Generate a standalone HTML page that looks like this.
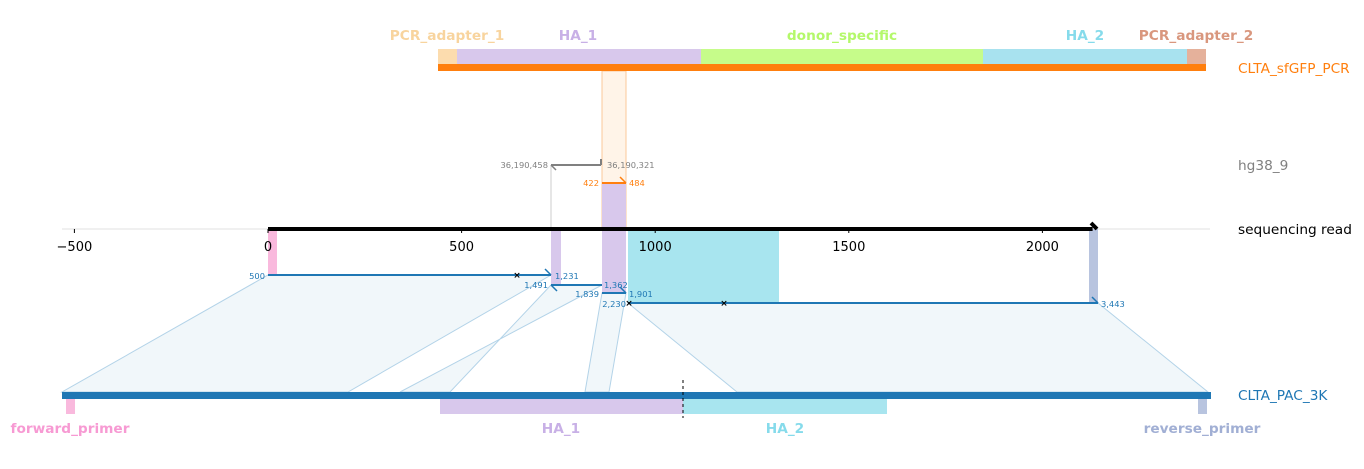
<!DOCTYPE html>
<html><head><meta charset="utf-8"><style>
body{margin:0;background:#fff;}
svg text{font-family:"DejaVu Sans","Liberation Sans",sans-serif;}
</style></head><body>
<svg width="1364" height="464" viewBox="0 0 1364 464">
<g id="root"></g>
</svg>
<script>
const ticks=[-500,0,500,1000,1500,2000];
const tickLabels=["−500","0","500","1000","1500","2000"];
const topFeatures=["PCR_adapter_1","HA_1","donor_specific","HA_2","PCR_adapter_2"];
const topStarts=[438,457,701,983,1187];
const topEnds=[457,701,983,1187,1206];
const topColors=["#fcdcae","#d8c8ec","#c6fc8a","#a8e2ef","#e5b19b"];
const topTextColors=["#f8d49e","#c8b0e6","#b4f86a","#86dbeb","#d9977e"];
const botFeatures=["forward_primer","HA_1","HA_2","reverse_primer"];
const readStart=0, readEnd=2140;
const NS="http://www.w3.org/2000/svg";
const root=document.getElementById('root');
function X(v){return 268+v*0.3872;}
function el(t,a,txt){const e=document.createElementNS(NS,t);for(const k in a)e.setAttribute(k,a[k]);if(txt!==undefined)e.textContent=txt;root.appendChild(e);return e;}
function T(x,y,s,fs,fill,anchor,w,name){const e=el('text',{x:x,y:y,'font-size':fs,fill:fill,'text-anchor':anchor||'start','font-weight':w||'normal'},s);return e;}
const polys=[[[268,275],[551,275],[348,392],[62,392]],[[551,285],[602,285],[400,392],[450,392]],[[602,293],[626,293],[609,392],[585,392]],[[628,303],[1098,303],[1208,392],[737,392]]];
polys.forEach((p,i)=>{const e=el('polygon',{points:p.map(q=>q.join(',')).join(' '),fill:'#f1f7fa',stroke:'#b3d3e8','stroke-width':1});});
let e=el('line',{x1:62,y1:229,x2:1210,y2:229,stroke:'#e0e0e0','stroke-width':1});
e=el('rect',{x:602,y:71,width:24,height:158,fill:'#fff4e8',stroke:'#fbc99a','stroke-width':1});
const mids=[[268,277,229,275,'#f9b9dd'],[551,561,229,285,'#d8c8ec'],[602,626,183,293,'#d8c8ec'],[628,779,229,303,'#a8e5ef'],[1089,1098,229,303,'#b8c4df']];
mids.forEach((m,i)=>{const e=el('rect',{x:m[0],y:m[2],width:m[1]-m[0],height:m[3]-m[2],fill:m[4]});});
e=el('line',{x1:551,y1:165,x2:551,y2:229,stroke:'#cccccc'});
e=el('line',{x1:X(readStart),y1:229,x2:X(readEnd)-4,y2:229,stroke:'#000','stroke-width':4});
e=el('polyline',{points:'1091,223 1097,229',stroke:'#000','stroke-width':4,fill:'none'});
ticks.forEach((t,i)=>{const x=X(t);let e=el('line',{x1:x,y1:229,x2:x,y2:233,stroke:'#000'});T(x,251,tickLabels[i],13,'#000','middle','normal','x-tick-label');});
topFeatures.forEach((f,i)=>{const e=el('rect',{x:topStarts[i],y:49,width:topEnds[i]-topStarts[i],height:15,fill:topColors[i]});});
e=el('rect',{x:438,y:64,width:768,height:7,fill:'#ff7f0e'});
const topLx=[447,578,842,1085,1196];
topFeatures.forEach((f,i)=>T(topLx[i],40,f,13.7,topTextColors[i],'middle','bold','label-'+f));
e=el('rect',{x:62,y:392,width:1149,height:7,fill:'#1f77b4'});
const bot=[[66,75,'#f9b9dd'],[440,683,'#d8c8ec'],[683,887,'#a8e5ef'],[1198,1207,'#b8c4df']];
bot.forEach((b,i)=>{const e=el('rect',{x:b[0],y:399,width:b[1]-b[0],height:15,fill:b[2]});});
e=el('line',{x1:683,y1:380,x2:683,y2:418,stroke:'#000','stroke-dasharray':'3,3'});
const botLx=[70,561,785,1202],botC=['#f79ad3','#c8b0e6','#86dbeb','#a1afd4'];
botFeatures.forEach((f,i)=>T(botLx[i],433,f,13.7,botC[i],'middle','bold','bottom-label-'+f));
function seg(x1,x2,y,c,w,name){const e=el('line',{x1:x1,y1:y,x2:x2,y2:y,stroke:c,'stroke-width':w});}
function hook(x,y,dx,dy,c,name){const e=el('line',{x1:x,y1:y,x2:x+dx,y2:y+dy,stroke:c,'stroke-width':1.5});}
seg(551,601,165,'#808080',2,'hg38-alignment');hook(551,165,5,5,'#808080','hg38-arrow');
e=el('line',{x1:601,y1:159,x2:601,y2:165,stroke:'#808080','stroke-width':2});
seg(602,626,183,'#ff7f0e',2,'donor-alignment');hook(626,183,-6,-6,'#ff7f0e','donor-arrow');
const B='#1f77b4';
seg(268,551,275,B,2,'align-1');hook(551,275,-6,-6,B,'arrow-1');
seg(551,602,285,B,2,'align-2');hook(551,285,6,6,B,'arrow-2');
seg(602,626,293,B,2,'align-3');hook(626,293,-6,-6,B,'arrow-3');
seg(628,1098,303,B,2,'align-4');hook(1098,303,-6,-6,B,'arrow-4');
[[517,275],[629,303],[724,303]].forEach(p=>T(p[0],p[1]+3,'×',9,'#000','middle','bold','gap-marker'));
const labs=[[548,168,'36,190,458','#808080','end'],[607,168,'36,190,321','#808080','start'],[599,186,'422','#ff7f0e','end'],[629,186,'484','#ff7f0e','start'],[265,279,'500',B,'end'],[555,279,'1,231',B,'start'],[548,288,'1,491',B,'end'],[604,288,'1,362',B,'start'],[599,297,'1,839',B,'end'],[629,297,'1,901',B,'start'],[626,307,'2,230',B,'end'],[1101,307,'3,443',B,'start']];
labs.forEach(l=>T(l[0],l[1],l[2],8.3,l[3],l[4],'normal','coord-label'));
T(1238,73,'CLTA_sfGFP_PCR',13.7,'#ff7f0e','start','normal','track-label-construct');
T(1238,170,'hg38_9',13.7,'#808080','start','normal','track-label-hg38');
T(1238,234,'sequencing read',13.7,'#000','start','normal','track-label-read');
T(1238,400,'CLTA_PAC_3K',13.7,'#1f77b4','start','normal','track-label-pac');
</script>
</body></html>
